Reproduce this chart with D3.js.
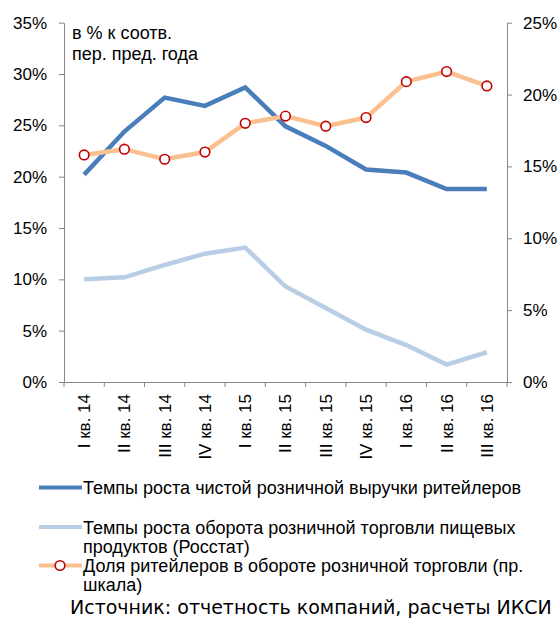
<!DOCTYPE html>
<html>
<head>
<meta charset="utf-8">
<script src="https://cdn.jsdelivr.net/npm/d3@7"></script>
<style>
  body { margin: 0; background: #fff; }
  text { font-family: "Liberation Sans", Arial, sans-serif; fill: #000; }
  .axis path, .axis line { stroke: #868686; }
</style>
</head>
<body>
<div id="chart"></div>
<script>
var categories = ["I кв. 14", "II кв. 14", "III кв. 14", "IV кв. 14", "I кв. 15", "II кв. 15",
                  "III кв. 15", "IV кв. 15", "I кв. 16", "II кв. 16", "III кв. 16"];
var revenueGrowth = [20.2, 24.4, 27.7, 26.9, 28.7, 24.9, 23.0, 20.7, 20.4, 18.8, 18.8];
var foodTurnover = [10.0, 10.2, 11.4, 12.5, 13.1, 9.3, 7.2, 5.1, 3.6, 1.7, 2.9];
var retailShare = [15.8, 16.2, 15.5, 16.0, 18.0, 18.5, 17.8, 18.4, 20.9, 21.6, 20.6];
var leftTicks = [0, 5, 10, 15, 20, 25, 30, 35];
var rightTicks = [0, 5, 10, 15, 20, 25];

var width = 560, height = 618;
var margin = { top: 22.7, left: 64, right: 53, bottom: 236 };

var svg = d3.select('#chart').append('svg')
            .attr('width', width)
            .attr('height', height);

var x = d3.scaleBand().domain(categories).range([margin.left, width - margin.right]);
var yL = d3.scaleLinear().domain([0, 35]).range([height - margin.bottom, margin.top]);
var yR = d3.scaleLinear().domain([0, 25]).range([height - margin.bottom, margin.top]);

// axes
var axL = svg.append('g').attr('class', 'axis')
             .attr('transform', 'translate(' + margin.left + ',0)')
             .call(d3.axisLeft(yL).tickValues(leftTicks).tickSize(5).tickSizeOuter(0)
                     .tickFormat(function(d){ return d + '%'; }));
axL.selectAll('text').attr('x', -17).style('font-size', '17px');

var axR = svg.append('g').attr('class', 'axis')
             .attr('transform', 'translate(' + (width - margin.right) + ',0)')
             .call(d3.axisRight(yR).tickValues(rightTicks).tickSize(5).tickSizeOuter(0)
                     .tickFormat(function(d){ return d + '%'; }));
axR.selectAll('text').attr('x', 16).style('font-size', '17px');

var axX = svg.append('g').attr('class', 'axis')
             .attr('transform', 'translate(0,' + (height - margin.bottom) + ')')
             .call(d3.axisBottom(x).tickSize(0).tickSizeOuter(0));
axX.selectAll('text')
   .attr('transform', 'rotate(-90)')
   .attr('x', -12).attr('y', 0).attr('dy', '0.35em')
   .style('text-anchor', 'end').style('font-size', '17px');
// tick marks at band boundaries
axX.selectAll('.bound').data(categories.concat([null])).enter().append('line')
   .attr('class', 'bound')
   .attr('x1', function(d, i){ return margin.left + i * x.step(); })
   .attr('x2', function(d, i){ return margin.left + i * x.step(); })
   .attr('y1', 0).attr('y2', 5);

// lines
var cx = function(i){ return x(categories[i]) + x.bandwidth() / 2; };
var lineL = d3.line().x(function(d, i){ return cx(i); }).y(function(d){ return yL(d); });
var lineR = d3.line().x(function(d, i){ return cx(i); }).y(function(d){ return yR(d); });

svg.append('path').datum(foodTurnover).attr('d', lineL)
   .attr('fill', 'none').attr('stroke', '#b9cde5').attr('stroke-width', 4.5);
svg.append('path').datum(revenueGrowth).attr('d', lineL)
   .attr('fill', 'none').attr('stroke', '#4a7ebb').attr('stroke-width', 4.5);
svg.append('path').datum(retailShare).attr('d', lineR)
   .attr('fill', 'none').attr('stroke', '#fac090').attr('stroke-width', 4.5);
svg.selectAll('.dot').data(retailShare).enter().append('circle')
   .attr('class', 'dot')
   .attr('cx', function(d, i){ return cx(i); })
   .attr('cy', function(d){ return yR(d); })
   .attr('r', 4.8)
   .attr('fill', '#fff').attr('stroke', '#c00000').attr('stroke-width', 1.6);

// annotation
svg.append('text').attr('x', 72).attr('y', 39).style('font-size', '18px').text('в % к соотв.');
svg.append('text').attr('x', 72).attr('y', 60).style('font-size', '18px').text('пер. пред. года');

// legend
var legend = svg.append('g');
function legendLine(y, color) {
  legend.append('line').attr('x1', 39).attr('x2', 82).attr('y1', y).attr('y2', y)
        .attr('stroke', color).attr('stroke-width', 4);
}
legendLine(487.5, '#4a7ebb');
legendLine(527, '#b9cde5');
legendLine(565.5, '#fac090');
legend.append('circle').attr('cx', 60).attr('cy', 565.5).attr('r', 4.8)
      .attr('fill', '#fff').attr('stroke', '#c00000').attr('stroke-width', 1.6);

var legendTexts = [
  [494, 'Темпы роста чистой розничной выручки ритейлеров'],
  [533.5, 'Темпы роста оборота розничной торговли пищевых'],
  [552.5, 'продуктов (Росстат)'],
  [572, 'Доля ритейлеров в обороте розничной торговли (пр.'],
  [591, 'шкала)']
];
legend.selectAll('text').data(legendTexts).enter().append('text')
      .attr('x', 83).attr('y', function(d){ return d[0]; })
      .style('font-size', '18px')
      .text(function(d){ return d[1]; });

svg.append('text').attr('x', 70).attr('y', 614)
   .style('font-family', '"DejaVu Sans", sans-serif')
   .style('font-size', '19px')
   .text('Источник: отчетность компаний, расчеты ИКСИ');
</script>
</body>
</html>
